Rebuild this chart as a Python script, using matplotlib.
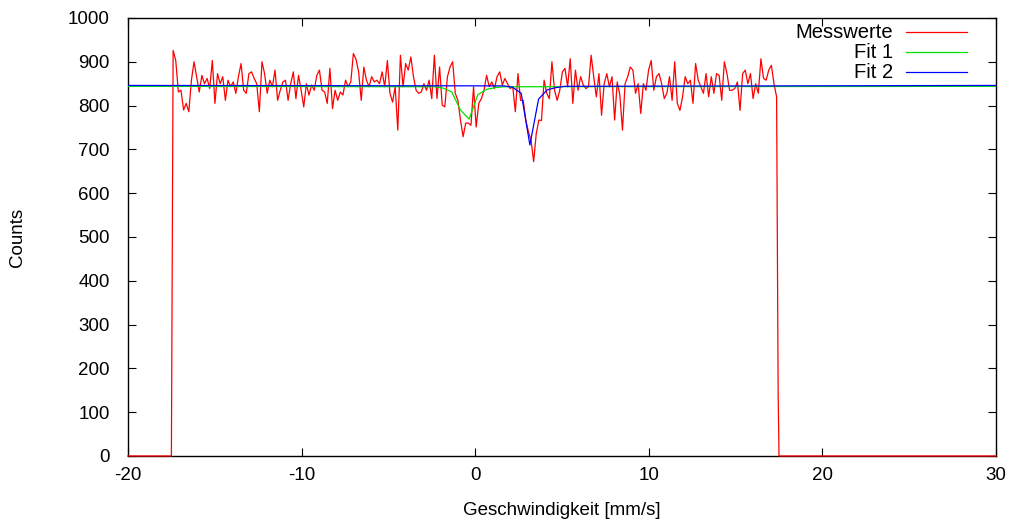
import numpy as np
import matplotlib
matplotlib.use("Agg")
import matplotlib.pyplot as plt
from matplotlib.lines import Line2D

plt.rcParams['font.family'] = ['Liberation Sans', 'DejaVu Sans']
plt.rcParams['axes.unicode_minus'] = False

counts = [
    926, 903, 831, 835, 790, 805, 786, 858, 900, 866, 831, 869, 850, 862, 839,
    903, 805, 873, 850, 866, 812, 858, 843, 854, 828, 866, 896, 835, 828, 873,
    877, 862, 850, 786, 900, 873, 828, 858, 843, 881, 812, 835, 854, 858, 812,
    850, 877, 816, 869, 835, 797, 850, 824, 847, 835, 869, 881, 835, 831, 805,
    885, 793, 835, 812, 831, 824, 858, 843, 854, 919, 906, 877, 812, 888, 858,
    843, 866, 854, 858, 850, 877, 843, 903, 828, 808, 843, 744, 915, 843, 896,
    881, 911, 866,
    835, 828, 831, 850, 835, 858, 816, 915, 816, 888, 801, 797, 866, 888, 900,
    828, 812, 767, 729, 760, 760, 755, 843, 751, 805, 816, 835, 869, 843, 854,
    839, 866, 877, 847, 862, 850, 839, 843, 786, 873, 812, 812, 767, 740, 721,
    672, 736, 767,
    766, 858, 828, 816, 900, 835, 812, 835, 877, 885, 843, 907, 805, 881, 835,
    866, 847, 839, 843, 915, 866, 820, 873, 778, 850, 873, 843, 866, 767, 854,
    824, 744, 850, 866, 888, 881, 828, 850, 782, 850, 835, 881, 903, 835, 866,
    873, 850, 816,
    828, 866, 812, 900, 805, 789, 820, 866, 850, 858, 805, 896, 858, 843, 828,
    873, 820, 866, 828, 873, 869, 812, 900, 873, 835, 835, 839, 854, 789, 873,
    881, 850, 873, 816, 850, 828, 907, 862, 858, 881, 892, 850, 820,
]
v_first, v_last = -17.4, 17.36
velocity = np.linspace(v_first, v_last, len(counts))

# empty channels outside the drive range
left_x = [-20, -17.5]
left_y = [0, 0]
right_x = [17.45, 17.5, 30]
right_y = [140, 0, 0]

# fits (drawn over the whole x range, only the dip vertices differ from baseline)
fit1_x = [-20, -2.35, -1.85, -1.35, -0.85, -0.35, 0.15, 0.65, 1.15, 1.65, 30]
fit1_y = [844, 843, 840, 831, 790, 769, 825, 837, 841, 843, 844]
fit2_x = [-20, 1.65, 2.15, 2.65, 3.15, 3.65, 4.15, 4.65, 5.15, 30]
fit2_y = [846, 845, 842, 828, 710, 815, 836, 841, 844, 846]

x_all = np.concatenate([left_x, velocity, right_x])
y_all = np.concatenate([left_y, counts, right_y])

fig = plt.figure(figsize=(10.11, 5.20), dpi=100)
ax = fig.add_axes([0.1266, 0.1231, 0.8586, 0.8423])

ax.plot(x_all, y_all, color='#ff0000', lw=0.9, zorder=3, clip_on=False)
ax.plot(fit1_x, fit1_y, color='#00e000', lw=0.9, zorder=4)
ax.plot(fit2_x, fit2_y, color='#0000ff', lw=0.9, zorder=5)

ax.set_xlim(-20, 30)
ax.set_ylim(0, 1000)
ax.set_xticks(range(-20, 31, 10))
ax.set_yticks(range(0, 1001, 100))
ax.tick_params(direction='in', length=6, width=0.8, top=True, right=True,
               labelsize=13.5, colors='black')
ax.tick_params(axis='y', pad=13)
ax.tick_params(axis='x', pad=8)
for s in ax.spines.values():
    s.set_linewidth(1.0)

ax.set_xlabel('Geschwindigkeit [mm/s]', fontsize=13.5, labelpad=13)
ax.set_ylabel('Counts', fontsize=13.5, labelpad=30)

# gnuplot-style key: text right-aligned, line sample to the right
labels = ['Messwerte', 'Fit 1', 'Fit 2']
key_colors = ['#ff0000', '#00e000', '#0000ff']
for i, (lab, c) in enumerate(zip(labels, key_colors)):
    yk = 0.968 - i * 0.0462
    ax.text(0.881, yk, lab, transform=ax.transAxes, ha='right', va='center',
            fontsize=14.5)
    ax.add_line(Line2D([0.896, 0.967], [yk, yk], transform=ax.transAxes,
                       color=c, lw=0.9))

fig.savefig('out.png', dpi=100)
